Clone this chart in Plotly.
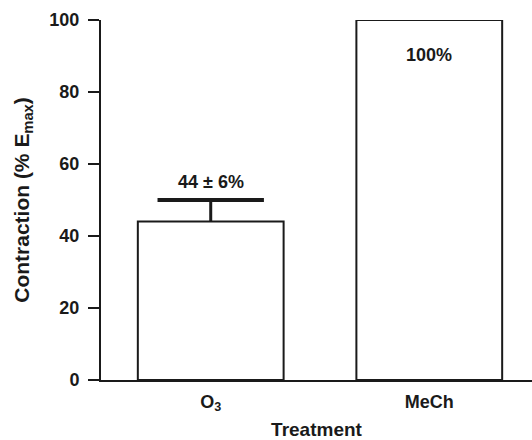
import plotly.graph_objects as go

categories = ["O<sub>3</sub>", "MeCh"]
values = [44, 100]
err_plus = [6, 0]
labels = ["44 ± 6%", "100%"]
y_ticks = [0, 20, 40, 60, 80, 100]

FONT = "Liberation Sans, Arial, Helvetica, sans-serif"
INK = "#1a1a1a"

fig = go.Figure()
fig.add_trace(go.Bar(
    x=[0, 1], y=values, width=0.667,
    marker=dict(color="white", line=dict(color=INK, width=2)),
    error_y=dict(type="data", symmetric=False, array=err_plus, arrayminus=[0, 0],
                 color=INK, thickness=3, width=0, visible=True),
    cliponaxis=False,
    showlegend=False,
))
# error-bar cap (upper only), drawn at value + error
cap_x = [i for i, e in enumerate(err_plus) if e > 0]
cap_y = [values[i] + err_plus[i] for i in cap_x]
fig.add_trace(go.Scatter(
    x=cap_x, y=cap_y, mode="markers",
    marker=dict(symbol="line-ew-open", size=76, color=INK, line=dict(color=INK, width=4)),
    showlegend=False, hoverinfo="skip", cliponaxis=False,
))

fig.add_annotation(x=0, y=values[0] + err_plus[0], text=labels[0], showarrow=False,
                   yshift=18, font=dict(family=FONT, size=18, color=INK, weight="bold"))
fig.add_annotation(x=1, y=values[1], text=labels[1], showarrow=False,
                   yshift=-35, font=dict(family=FONT, size=18, color=INK, weight="bold"))

fig.update_layout(
    width=532, height=440,
    margin=dict(l=101, r=0, t=20, b=60),
    plot_bgcolor="white", paper_bgcolor="white",
    font=dict(family=FONT, color=INK),
)
fig.update_xaxes(
    range=[-0.502, 1.47], tickvals=[0, 1], ticktext=categories,
    showline=True, linecolor=INK, linewidth=2, ticks="", showgrid=False, zeroline=False,
    ticklabelstandoff=4,
    tickfont=dict(family=FONT, size=18, weight="bold", color=INK),
    title=dict(text="Treatment", font=dict(family=FONT, size=19, weight="bold", color=INK), standoff=13),
)
fig.update_yaxes(
    range=[0, 100], tickvals=y_ticks,
    showline=True, linecolor=INK, linewidth=2, ticks="outside", ticklen=11, tickwidth=2,
    tickcolor=INK, showgrid=False, zeroline=False, ticklabelstandoff=5,
    tickfont=dict(family=FONT, size=18, weight="bold", color=INK),
    title=dict(text="Contraction (% E<sub>max</sub>)", font=dict(family=FONT, size=21, weight="bold", color=INK), standoff=14),
)

fig.write_html("out.html", config={"displayModeBar": False},
               post_script="document.body.style.margin='0';document.body.style.padding='0';")
